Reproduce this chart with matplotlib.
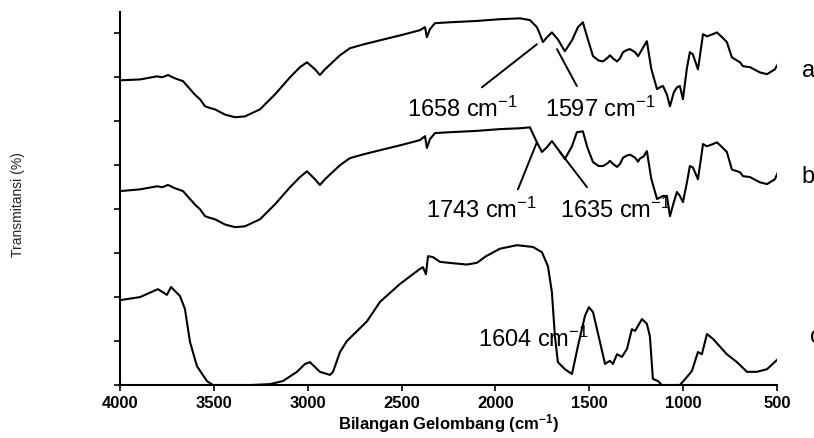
import numpy as np
import matplotlib
matplotlib.use('Agg')
from matplotlib import pyplot as plt

plt.rcParams['font.family'] = ['Liberation Sans', 'DejaVu Sans']
plt.rcParams['mathtext.fontset'] = 'custom'
plt.rcParams['mathtext.rm'] = 'Liberation Sans'
plt.rcParams['mathtext.it'] = 'Liberation Sans'
plt.rcParams['mathtext.bf'] = 'Liberation Sans:bold'

# spektrum a
wn_a = [4000, 3893, 3803, 3775, 3744, 3710, 3664, 3600, 3574, 3547, 3520, 3494, 3440, 3387,
        3334, 3254, 3174, 3094, 3041, 3004, 2961, 2935, 2908, 2828, 2775, 2700, 2615, 2500,
        2402, 2375, 2365, 2349, 2322, 2242, 2100, 1976, 1869, 1816, 1779, 1763, 1747, 1725,
        1699, 1667, 1630, 1592, 1560, 1534, 1510, 1480, 1450, 1427, 1400, 1390, 1374, 1352,
        1336, 1320, 1299, 1283, 1256, 1240, 1230, 1210, 1193, 1170, 1139, 1120, 1107, 1086,
        1070, 1050, 1033, 1017, 1001, 980, 964, 948, 921, 910, 894, 873, 841, 820, 790, 767,
        740, 697, 681, 644, 591, 553, 511, 495]
t_a = [69.3, 69.5, 70.2, 70.0, 70.5, 69.8, 69.1, 66.0, 65.0, 63.4, 63.0, 62.7, 61.5, 60.9,
       61.1, 62.7, 66.1, 70.0, 72.3, 73.4, 71.8, 70.5, 71.8, 75.0, 76.6, 77.5, 78.4, 79.6,
       80.7, 81.4, 79.1, 80.9, 82.3, 82.5, 82.8, 83.2, 83.4, 83.0, 81.4, 79.8, 78.0, 79.1,
       80.2, 78.6, 75.9, 78.4, 81.4, 82.5, 79.0, 74.8, 73.8, 73.6, 74.5, 75.0, 74.3, 73.6,
       74.3, 75.7, 76.2, 76.4, 75.7, 74.8, 75.5, 77.0, 78.2, 72.0, 67.3, 67.8, 68.0, 66.0,
       63.4, 66.5, 67.7, 68.0, 65.0, 72.0, 75.7, 75.2, 71.8, 75.0, 79.8, 79.3, 79.8, 80.2,
       79.0, 78.0, 74.5, 73.4, 72.5, 72.3, 71.1, 70.7, 71.8, 73.0]

# spektrum b
wn_b = [4000, 3893, 3803, 3775, 3744, 3710, 3664, 3600, 3574, 3547, 3520, 3494, 3440, 3387,
        3334, 3254, 3174, 3094, 3041, 3004, 2961, 2935, 2908, 2828, 2775, 2700, 2615, 2500,
        2402, 2375, 2365, 2349, 2322, 2242, 2100, 1976, 1869, 1816, 1779, 1752, 1725, 1699,
        1656, 1630, 1592, 1566, 1534, 1510, 1480, 1450, 1427, 1400, 1390, 1374, 1352, 1336,
        1320, 1299, 1283, 1256, 1240, 1230, 1210, 1193, 1170, 1139, 1107, 1086, 1070, 1050,
        1033, 1017, 1001, 980, 964, 948, 921, 910, 894, 873, 841, 820, 790, 767, 740, 697,
        681, 644, 591, 553, 511, 495]
t_b = [44.1, 44.5, 45.2, 45.0, 45.5, 44.8, 44.1, 41.0, 40.0, 38.4, 38.0, 37.7, 36.5, 35.9,
       36.1, 37.7, 41.1, 45.0, 47.3, 48.6, 46.8, 45.5, 46.8, 50.0, 51.6, 52.5, 53.4, 54.6,
       55.7, 56.6, 53.9, 55.9, 57.3, 57.5, 57.8, 58.2, 58.4, 58.6, 55.2, 53.0, 54.1, 55.5,
       53.0, 51.4, 54.3, 57.5, 57.7, 54.0, 50.7, 49.8, 49.8, 50.5, 51.0, 50.3, 49.6, 50.3,
       51.7, 52.2, 52.4, 51.7, 50.8, 51.5, 52.0, 53.2, 47.0, 42.3, 43.0, 43.0, 38.4, 41.5,
       43.9, 43.0, 41.6, 46.0, 49.8, 49.5, 46.8, 50.0, 54.8, 54.3, 54.8, 55.2, 54.0, 53.0,
       49.0, 48.4, 47.5, 47.3, 46.1, 45.7, 46.8, 48.4]

# spektrum c
wn_c = [4000, 3893, 3798, 3750, 3728, 3680, 3654, 3627, 3590, 3537, 3505, 3400, 3300, 3201,
        3132, 3057, 3014, 2988, 2935, 2881, 2865, 2828, 2791, 2684, 2615, 2508, 2402, 2386,
        2370, 2359, 2333, 2295, 2226, 2152, 2098, 2050, 1976, 1885, 1800, 1752, 1720, 1699,
        1683, 1667, 1630, 1592, 1560, 1523, 1502, 1480, 1443, 1416, 1390, 1374, 1352, 1326,
        1299, 1273, 1256, 1219, 1193, 1177, 1161, 1134, 1113, 1017, 980, 953, 921, 900, 873,
        841, 767, 713, 660, 607, 553, 495]
t_c = [19.3, 20.0, 21.8, 20.5, 22.3, 20.2, 17.3, 9.8, 4.3, 0.9, 0.0, 0.0, 0.0, 0.2,
       0.9, 3.0, 4.8, 5.2, 3.0, 2.3, 3.0, 7.5, 10.0, 14.5, 18.9, 23.0, 26.4, 26.8,
       25.2, 29.3, 29.1, 28.0, 27.7, 27.4, 27.8, 29.3, 31.0, 31.8, 31.4, 30.2, 27.0, 21.1,
       11.1, 5.2, 3.6, 2.5, 8.9, 15.7, 17.7, 16.6, 9.8, 4.8, 5.5, 4.8, 7.0, 6.4,
       8.2, 12.7, 12.3, 15.0, 13.9, 11.1, 1.4, 0.9, 0.0, 0.0, 1.8, 3.2, 7.5, 7.0, 11.6,
       10.5, 7.0, 5.2, 3.0, 3.0, 3.6, 5.9]

x_ticks = [4000, 3500, 3000, 2500, 2000, 1500, 1000, 500]

fig = plt.figure(figsize=(8.14, 4.39), dpi=100)
ax = fig.add_axes([0.1474, 0.1207, 0.8071, 0.8493])

for wn, t in [(wn_a, t_a), (wn_b, t_b), (wn_c, t_c)]:
    ax.plot(wn, t, color='black', lw=1.5)

ax.set_xlim(4000, 500)
ax.set_ylim(0, 84.8)
ax.set_xticks(x_ticks)
ax.set_xticklabels([str(v) for v in x_ticks], fontsize=12, fontweight='bold')
ax.set_yticks(np.arange(0, 81, 10))
ax.set_yticklabels([])
ax.tick_params(direction='out', length=4, width=1.2, pad=3)
for s in ['top', 'right']:
    ax.spines[s].set_visible(False)
for s in ['left', 'bottom']:
    ax.spines[s].set_linewidth(1.5)

ax.set_xlabel('Bilangan Gelombang (cm$^{\\mathbf{-1}}$)', fontsize=12, fontweight='bold', labelpad=1)
fig.text(0.022, 0.533, 'Transmitansi (%)', rotation=90, fontsize=10, va='center', ha='center',
         color='#222222')

# anotasi puncak
lbl = dict(fontsize=17, ha='center', va='baseline')
line = dict(arrowstyle='-', color='black', lw=1.4, shrinkA=0, shrinkB=0)
ax.annotate('', xy=(1779, 77.5), xytext=(2072, 67.7), arrowprops=line)
ax.annotate('', xy=(1672, 76.4), xytext=(1566, 68.0), arrowprops=line)
ax.annotate('', xy=(1779, 55.2), xytext=(1880, 44.5), arrowprops=line)
ax.annotate('', xy=(1656, 53.0), xytext=(1512, 45.0), arrowprops=line)
ax.text(2173, 61.1, '1658 cm$^{-1}$', **lbl)
ax.text(1443, 61.1, '1597 cm$^{-1}$', **lbl)
ax.text(2072, 38.2, '1743 cm$^{-1}$', **lbl)
ax.text(1358, 38.2, '1635 cm$^{-1}$', **lbl)
ax.text(1795, 8.9, '1604 cm$^{-1}$', **lbl)

# label spektrum (c terpotong di tepi, seperti aslinya)
ax.text(367, 70.2, 'a', fontsize=17, ha='left', va='baseline', clip_on=False)
ax.text(367, 46.1, 'b', fontsize=17, ha='left', va='baseline', clip_on=False)
ax.text(324, 9.8, 'c', fontsize=17, ha='left', va='baseline', clip_on=False)

fig.savefig('out.png', dpi=100)
